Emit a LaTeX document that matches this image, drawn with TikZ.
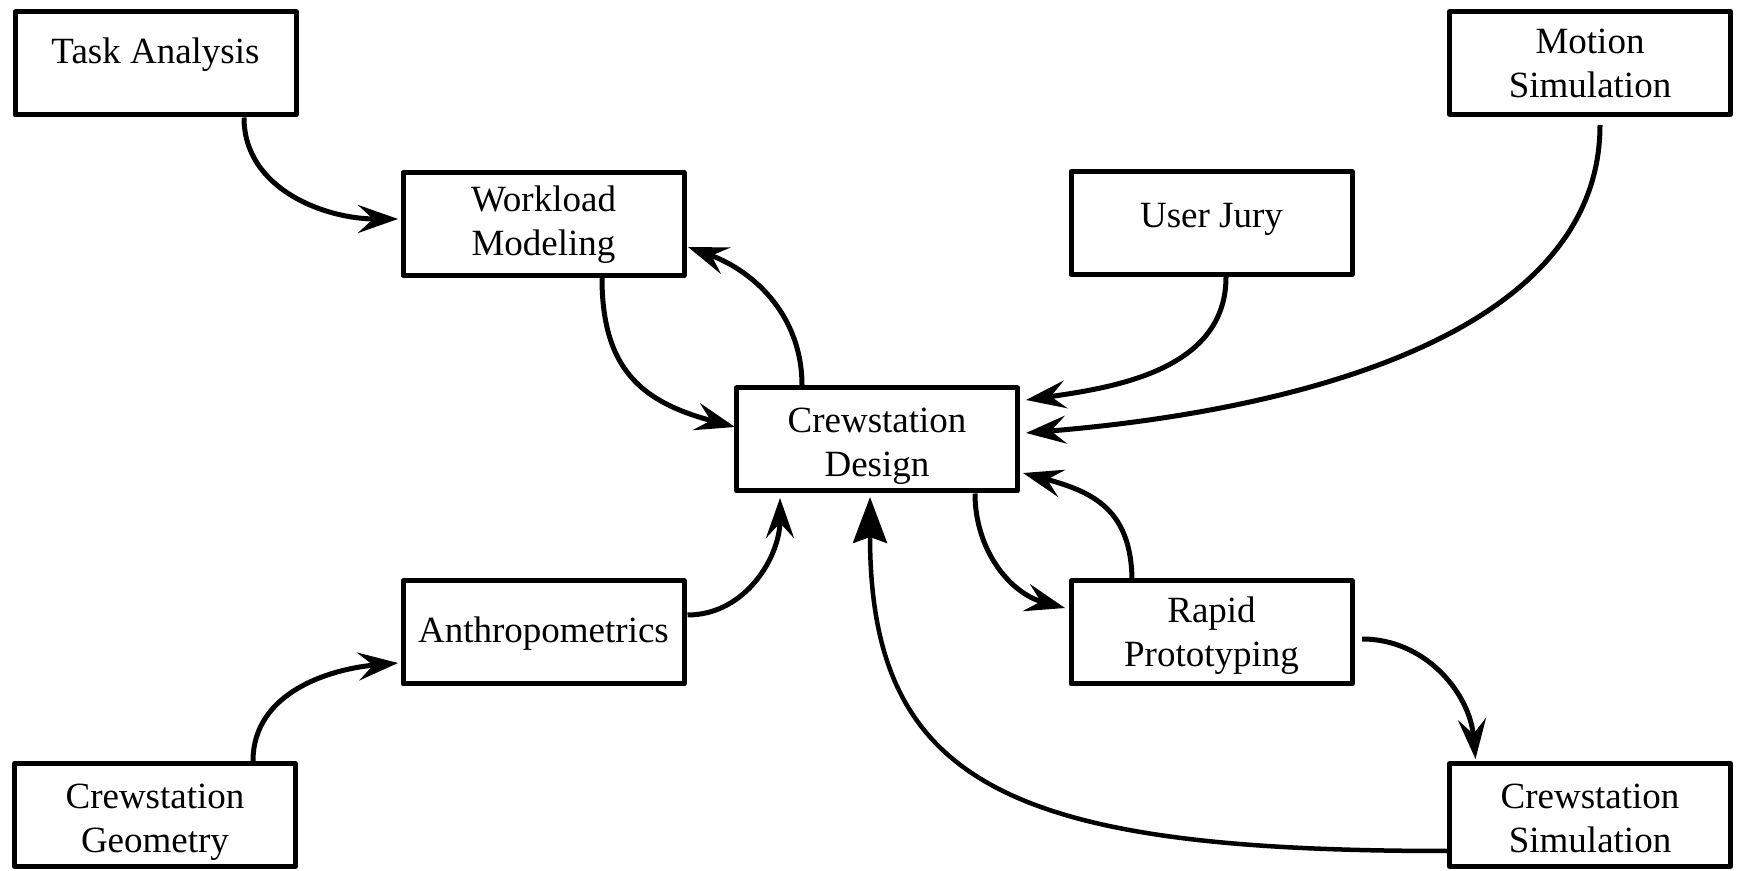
\documentclass[tikz,border=0pt]{standalone}
\usepackage{fontspec}
\setmainfont{Liberation Serif}
\usetikzlibrary{arrows.meta,calc}
\begin{document}
\begin{tikzpicture}[x=1pt,y=1pt,
  box/.style={draw=black, line width=5pt, line join=round, minimum width=281pt, minimum height=103pt, inner sep=0pt, fill=white},
  lbl/.style={font=\fontsize{37}{44}\selectfont, align=center, inner sep=0pt, anchor=north},
  conn/.style={line width=5pt, -{Stealth[length=40pt,width=28pt,inset=15pt]}},
  connb/.style={line width=4.5pt, -{Stealth[length=46pt,width=34pt,inset=6pt]}}]
\useasboundingbox (0,0) rectangle (1737,870);
\fill[white] (0,0) rectangle (1737,870);
% boxes
\node[box] (ta) at (155.5,806.5) {};
\node[box] (ms) at (1590,807) {};
\node[box] (wm) at (543.5,646) {};
\node[box] (uj) at (1211.5,647) {};
\node[box] (cd) at (877,430.5) {};
\node[box] (an) at (543.5,237.5) {};
\node[box] (rp) at (1211.5,237.5) {};
\node[box] (cg) at (155,55) {};
\node[box] (cs) at (1590,55) {};
% labels
\node[lbl] (tat) at (155.5,837.8) {\strut Task Analysis};
\node[lbl] (mst) at (1590,847.8) {\strut Motion\\\strut Simulation};
\node[lbl] (wmt) at (543.5,689.8) {\strut Workload\\\strut Modeling};
\node[lbl] (ujt) at (1211.5,673.8) {\strut User Jury};
\node[lbl] (cdt) at (877,468.8) {\strut Crewstation\\\strut Design};
\node[lbl] (ant) at (543.5,258.8) {\strut Anthropometrics};
\node[lbl] (rpt) at (1211.5,278.8) {\strut Rapid\\\strut Prototyping};
\node[lbl] (cgt) at (155,92.8) {\strut Crewstation\\\strut Geometry};
\node[lbl] (cst) at (1590,92.8) {\strut Crewstation\\\strut Simulation};
% connectors
\draw[conn] ($(ta.south)+(88.5,0)$) to[out=-90,in=180] ($(wm.west)+(-2.5,5)$);
\draw[conn] ($(wm.south)+(58.5,0)$) to[out=-90,in=165,looseness=1.2] ($(cd.west)+(1,12.5)$);
\draw[conn] ($(cd.north)+(-75,0)$) to[out=90,in=-20] ($(wm.east)+(1.5,-23)$);
\draw[conn] ($(uj.south)+(14.5,0)$) to[out=-90,in=8] ($(cd.east)+(6,39.5)$);
\draw[conn] ($(ms.south)+(10,-8)$) .. controls +(0,-250) and +(145,12) .. ($(cd.east)+(6,6.5)$);
\draw[conn] ($(rp.north)+(-79.5,-3.5)$) to[out=90,in=-15,looseness=1.2] ($(cd.east)+(3,-33.5)$);
\draw[conn] ($(cd.south)+(98,0)$) to[out=-90,in=165] ($(rp.west)+(-3.5,24.5)$);
\draw[conn] ($(an.east)+(1,17.5)$) to[out=0,in=-90] ($(cd.south)+(-97,-4.5)$);
\draw[conn] ($(cg.north)+(98,0)$) to[out=90,in=185] ($(an.west)+(-2.5,-30.5)$);
\draw[conn] ($(rp.east)+(7.5,-6.5)$) to[out=0,in=95] ($(cs.north)+(-114.5,2)$);
\draw[connb] ($(cs.west)+(0,-36)$) .. controls +(-433,0) and +(0,-290) .. ($(cd.south)+(-7,-3.5)$);
\end{tikzpicture}
\end{document}
